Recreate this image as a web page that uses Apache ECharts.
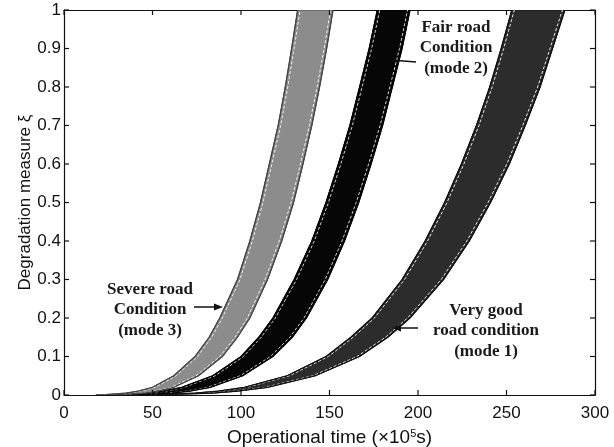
<!DOCTYPE html>
<html><head><meta charset="utf-8">
<script src="https://cdn.jsdelivr.net/npm/echarts@6/dist/echarts.min.js"></script>
<style>html,body{margin:0;padding:0;background:#fff}#c{width:614px;height:447px}</style>
</head><body><div id="c"></div>
<script>
// y levels at which band edges were read (degradation measure)
var yLevels   = [0, 0.001, 0.005, 0.01, 0.02, 0.05, 0.1, 0.15, 0.2, 0.3, 0.4, 0.5, 0.6, 0.7, 0.8, 0.9, 1];
// operational time (x10^5 s) of the left / right edge of each band at those levels
var mode3Left  = [18, 23.5, 35, 42, 50, 62, 74, 82, 88, 98, 105, 111, 116, 121, 125, 128.6, 132];
var mode3Right = [24, 31, 45, 53, 62, 76, 89.5, 98, 105, 115, 123, 129.7, 135, 140, 144.4, 148.4, 152];
var mode2Left  = [22, 31.5, 47, 56, 66.5, 84, 100, 110, 118, 130, 140, 148, 155, 161.5, 167, 172.4, 177];
var mode2Right = [30, 43, 61, 71, 82.6, 101, 118, 129, 137, 149, 158.5, 166.5, 173.5, 180, 185.5, 191, 195.5];
var mode1Left  = [35, 51, 74, 87, 102, 126, 148, 162, 174, 191, 204, 215, 224.5, 233, 240.5, 247, 253];
var mode1Right = [40, 58, 84, 98, 115, 142, 167, 183, 195.5, 214.5, 229, 241, 251.6, 260.6, 269, 276, 283];
// tick positions
var xTicks = [0, 50, 100, 150, 200, 250, 300];
var yTicks = [0, 0.1, 0.2, 0.3, 0.4, 0.5, 0.6, 0.7, 0.8, 0.9, 1];

var chart = echarts.init(document.getElementById('c'), null, {renderer: 'canvas'});

function bandSeries(name, left, right, fill, edge, stripe) {
  var pts = [];
  for (var i = 0; i < yLevels.length; i++) pts.push([left[i], yLevels[i]]);
  for (var j = yLevels.length - 1; j >= 0; j--) pts.push([right[j], yLevels[j]]);
  return {
    type: 'custom', name: name, coordinateSystem: 'cartesian2d',
    data: pts, clip: true, silent: true, z: 2,
    renderItem: function (params, api) {
      if (params.dataIndex !== 0) return null;
      var L = [], R = [], Li = [], Ri = [];
      for (var i = 0; i < yLevels.length; i++) {
        var a = api.coord([left[i], yLevels[i]]);
        var b = api.coord([right[i], yLevels[i]]);
        L.push(a); R.push(b);
        Li.push([a[0] + 2.5, a[1]]); Ri.push([b[0] - 2.5, b[1]]);
      }
      var poly = L.concat(R.slice().reverse());
      var cs = params.coordSys;
      return {
        type: 'group',
        clipPath: {type: 'rect', shape: {x: cs.x, y: cs.y, width: cs.width, height: cs.height}},
        children: [
          {type: 'polygon', shape: {points: poly}, style: {fill: fill, stroke: edge, lineWidth: 1}},
          {type: 'polyline', shape: {points: Li}, style: {fill: null, stroke: stripe, lineWidth: 1, lineDash: [3, 2]}},
          {type: 'polyline', shape: {points: Ri}, style: {fill: null, stroke: stripe, lineWidth: 1, lineDash: [3, 2]}},
          {type: 'polyline', shape: {points: L}, style: {fill: null, stroke: edge, lineWidth: 1.2}},
          {type: 'polyline', shape: {points: R}, style: {fill: null, stroke: edge, lineWidth: 1.2}}
        ]
      };
    }
  };
}

// inward tick marks on all four sides of the box, placed through the axes' scales
var tickSeries = {
  type: 'custom', name: 'ticks', coordinateSystem: 'cartesian2d', data: [[150, 0.5]],
  silent: true, z: 20, clip: false,
  renderItem: function (params, api) {
    var cs = params.coordSys, len = 5, ch = [];
    function tk(p1, p2) {
      ch.push({type: 'polyline', shape: {points: [p1, p2]}, style: {fill: null, stroke: '#111', lineWidth: 1.2}});
    }
    xTicks.forEach(function (v) {
      var x = api.coord([v, 0])[0];
      tk([x, cs.y + cs.height], [x, cs.y + cs.height - len]);
      tk([x, cs.y], [x, cs.y + len]);
    });
    yTicks.forEach(function (v) {
      var y = api.coord([0, v])[1];
      tk([cs.x, y], [cs.x + len, y]);
      tk([cs.x + cs.width, y], [cs.x + cs.width - len, y]);
    });
    return {type: 'group', children: ch};
  }
};

function note(text, x, y) {
  return {type: 'text', x: x, y: y, z: 100,
    style: {text: text, textAlign: 'center', textVerticalAlign: 'top', font: 'bold 17px "Liberation Serif"', fill: '#1a1a1a', lineHeight: 20.5}};
}

function axisBase(extra) {
  return Object.assign({
    type: 'value', min: 0,
    axisLine: {show: true, onZero: false, lineStyle: {color: '#111', width: 1.2}},
    axisTick: {show: false},
    splitLine: {show: false}
  }, extra);
}

var labelFont = {fontFamily: 'Liberation Sans', fontSize: 17, color: '#111'};

var option = {
  backgroundColor: '#ffffff',
  animation: false,
  grid: {left: 64, right: 19, top: 10, bottom: 52, containLabel: false, outerBoundsMode: 'none'},
  xAxis: [
    axisBase({max: 300, interval: 50, position: 'bottom',
      axisLabel: Object.assign({margin: 10}, labelFont),
      name: '{a|Operational time (×10}{s|5}{a|s)}', nameLocation: 'middle', nameGap: 33, nameMoveOverlap: false,
      nameTextStyle: {rich: {a: {fontFamily: 'Liberation Sans', fontSize: 19, color: '#111'},
        s: {fontFamily: 'Liberation Sans', fontSize: 11, color: '#111', verticalAlign: 'top', padding: [0, 0, 9, 0]}}}}),
    axisBase({max: 300, interval: 50, position: 'top', axisLabel: {show: false}})
  ],
  yAxis: [
    axisBase({max: 1, interval: 0.1, position: 'left',
      axisLabel: Object.assign({margin: 3}, labelFont),
      name: 'Degradation measure ξ', nameLocation: 'middle', nameGap: 30, nameRotate: 90, nameMoveOverlap: false,
      nameTextStyle: {fontFamily: 'Liberation Sans', fontSize: 17, color: '#111'}}),
    axisBase({max: 1, interval: 0.1, position: 'right', axisLabel: {show: false}})
  ],
  series: [
    bandSeries('Very good road condition (mode 1)', mode1Left, mode1Right, '#2c2c2c', '#111', '#e8e8e8'),
    bandSeries('Fair road condition (mode 2)', mode2Left, mode2Right, '#060606', '#000', '#cfcfcf'),
    bandSeries('Severe road condition (mode 3)', mode3Left, mode3Right, '#8c8c8c', '#444', '#f0f0f0'),
    tickSeries
  ],
  graphic: [
    note('Fair road\nCondition\n(mode 2)', 456, 17),
    note('Severe road\nCondition\n(mode 3)', 150, 279),
    note('Very good\nroad condition\n(mode 1)', 486, 300),
    {type: 'line', z: 100, shape: {x1: 391, y1: 60, x2: 416, y2: 62}, style: {stroke: '#111', lineWidth: 1.5}},
    {type: 'line', z: 100, shape: {x1: 194, y1: 307, x2: 216, y2: 307}, style: {stroke: '#111', lineWidth: 1.5}},
    {type: 'polygon', z: 100, shape: {points: [[223, 307], [214, 303.5], [214, 310.5]]}, style: {fill: '#111'}},
    {type: 'line', z: 100, shape: {x1: 418, y1: 328, x2: 400, y2: 328}, style: {stroke: '#111', lineWidth: 1.5}},
    {type: 'polygon', z: 100, shape: {points: [[392, 328], [401, 324.5], [401, 331.5]]}, style: {fill: '#111'}}
  ]
};
chart.setOption(option);
</script></body></html>
